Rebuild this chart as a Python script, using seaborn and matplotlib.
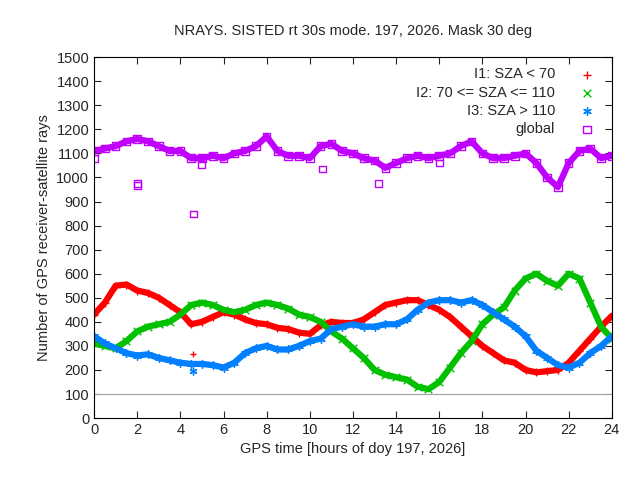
import numpy as np
import pandas as pd
import matplotlib
matplotlib.use("Agg")
import matplotlib.pyplot as plt
import seaborn as sns

horas = np.arange(0, 24.01, 0.5)

i1 = [430, 480, 550, 555, 530, 520, 500, 470, 440, 390, 400, 420, 440, 430, 410, 395,
      390, 375, 370, 355, 350, 385, 400, 395, 395, 410, 440, 470, 480, 490, 490, 470,
      450, 420, 380, 340, 300, 270, 240, 230, 200, 190, 195, 200, 230, 280, 330, 380, 425]
i2 = [310, 300, 290, 320, 360, 380, 390, 400, 430, 470, 480, 470, 450, 440, 450, 470,
      480, 470, 455, 430, 420, 400, 360, 330, 290, 250, 200, 180, 170, 160, 130, 120,
      150, 210, 270, 320, 390, 430, 460, 530, 580, 600, 570, 550, 600, 580, 480, 380, 330]
i3 = [340, 310, 290, 270, 260, 265, 250, 240, 230, 225, 225, 220, 210, 230, 270, 290,
      300, 285, 285, 300, 320, 330, 370, 380, 390, 380, 380, 390, 390, 410, 450, 480,
      490, 490, 480, 490, 470, 440, 410, 380, 340, 280, 250, 220, 210, 230, 270, 300, 340]
glob = [1110, 1120, 1130, 1150, 1160, 1150, 1130, 1110, 1110, 1080, 1080, 1090, 1080,
        1100, 1110, 1130, 1170, 1110, 1090, 1090, 1080, 1130, 1140, 1110, 1100, 1080,
        1070, 1040, 1060, 1080, 1090, 1080, 1090, 1100, 1130, 1150, 1100, 1080, 1080,
        1090, 1100, 1060, 1000, 960, 1060, 1110, 1120, 1080, 1090]

# puntos sueltos
glob_x = [0, 2, 2, 4.6, 5, 10.6, 13.2, 16]
glob_y = [1080, 975, 965, 848, 1055, 1035, 975, 1060]
i1_x, i1_y = [4.6], [268]
i3_x, i3_y = [4.6], [195]

series = [
    ("I1: SZA < 70", i1, i1_x, i1_y, "#ff0000", "+"),
    ("I2: 70 <= SZA <= 110", i2, [], [], "#00c000", "x"),
    ("I3: SZA > 110", i3, i3_x, i3_y, "#0080ff", (6, 2, 0)),
    ("global", glob, glob_x, glob_y, "#c000ff", "s"),
]

sns.set_style("ticks")
plt.rcParams["font.family"] = ["Liberation Sans", "DejaVu Sans"]
fig = plt.figure(figsize=(6.4, 4.8), dpi=100)
ax = fig.add_axes([0.147, 0.129, 0.809, 0.752])

for nombre, vals, ox, oy, color, marca in series:
    df = pd.DataFrame({"x": horas, "y": vals})
    sns.lineplot(data=df, x="x", y="y", color=color, lw=4.5, ax=ax, legend=False)
    fc = "none" if marca == "s" else color
    ax.scatter(horas, vals, marker=marca, s=30, facecolors=fc, edgecolors=color,
               linewidths=1, label=nombre)
    if ox:
        ax.scatter(ox, oy, marker=marca, s=25, facecolors=fc, edgecolors=color, linewidths=1)

ax.axhline(100, color="#a0a0a0", lw=0.8)
ax.set_xlim(0, 24)
ax.set_ylim(0, 1500)
ax.set_xticks(range(0, 25, 2))
ax.set_yticks(range(0, 1501, 100))
ax.tick_params(direction="in", labelsize=10.5, top=True, right=True, length=5)
for s in ax.spines.values():
    s.set_visible(True)
    s.set_color("black")
ax.set_xlabel("GPS time [hours of doy 197, 2026]", fontsize=10.5)
ax.set_ylabel("Number of GPS receiver-satellite rays", fontsize=10.5)
ax.set_title("NRAYS. SISTED rt 30s mode. 197, 2026. Mask 30 deg", fontsize=10.5, pad=16)

leg = ax.legend(loc="upper right", frameon=False, markerfirst=False, fontsize=10.5,
                handletextpad=1.2, labelspacing=0.3, borderaxespad=0.3)

fig.savefig("out.png", dpi=100)
